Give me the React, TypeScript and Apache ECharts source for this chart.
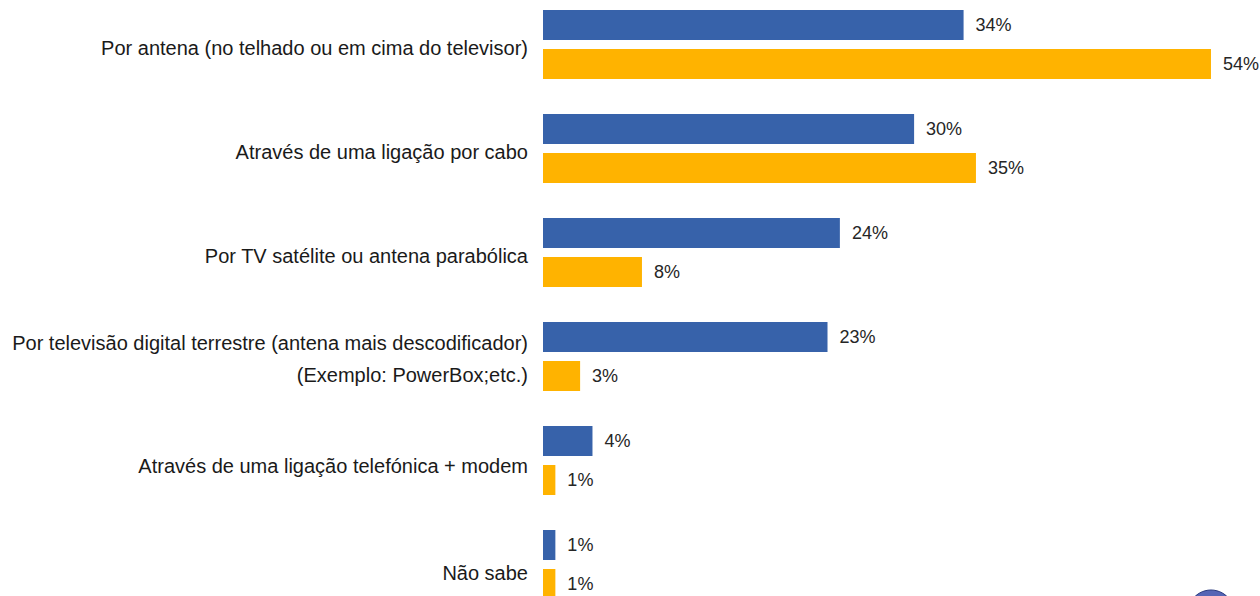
import React, { useEffect, useRef } from "react";
import * as echarts from "echarts";

const categories = [
  "Por antena (no telhado ou em cima do televisor)",
  "Através de uma ligação por cabo",
  "Por TV satélite ou antena parabólica",
  "Por televisão digital terrestre (antena mais descodificador)\n(Exemplo: PowerBox;etc.)",
  "Através de uma ligação telefónica + modem",
  "Não sabe",
];
const seriesA = [34, 30, 24, 23, 4, 1];
const seriesB = [54, 35, 8, 3, 1, 1];

const FONT = "'Liberation Sans', Arial, sans-serif";
const labelShift = [7, 7, 7, 5, 11, 16];

export default function App() {
  const ref = useRef<HTMLDivElement>(null);
  useEffect(() => {
    document.body.style.margin = "0";
    const chart = echarts.init(ref.current!, null, { renderer: "svg" });
    const labelCommon = {
      show: true,
      position: "right" as const,
      distance: 12,
      formatter: "{c}%",
      fontFamily: FONT,
      fontSize: 18,
      color: "#262626",
    };
    const rich: Record<string, any> = {};
    labelShift.forEach((s, i) => {
      rich["r" + i] = {
        fontFamily: FONT,
        fontSize: 20,
        color: "#1a1a1a",
        lineHeight: 32,
        align: "right",
        padding: [s, 0, 0, 0],
      };
    });
    chart.setOption({
      animation: false,
      backgroundColor: "#ffffff",
      grid: {
        left: 543,
        top: -7.5,
        width: 54 * 12.37,
        height: 624,
        containLabel: false,
        outerBoundsMode: "none",
      },
      xAxis: {
        type: "value",
        min: 0,
        max: 54,
        show: false,
      },
      yAxis: {
        type: "category",
        data: categories,
        inverse: true,
        axisLine: { show: false },
        axisTick: { show: false },
        axisLabel: {
          fontFamily: FONT,
          fontSize: 20,
          color: "#1a1a1a",
          margin: 15,
          lineHeight: 32,
          align: "right",
          formatter: (v: string, i: number) =>
            v
              .split("\n")
              .map((line) => `{r${i}|${line}}`)
              .join("\n"),
          rich,
        },
      },
      series: [
        {
          type: "bar",
          data: seriesA,
          barWidth: 30,
          barGap: "30%",
          itemStyle: { color: "#3762AA" },
          label: labelCommon,
        },
        {
          type: "bar",
          data: seriesB,
          barWidth: 30,
          itemStyle: { color: "#FFB300" },
          label: labelCommon,
        },
      ],
      graphic: [
        {
          type: "circle",
          shape: { cx: 1211, cy: 613, r: 23 },
          style: { fill: "#5565b5", stroke: "#2a3a80", lineWidth: 1 },
        },
      ],
    });
    return () => chart.dispose();
  }, []);
  return <div ref={ref} style={{ width: 1260, height: 596 }} />;
}
